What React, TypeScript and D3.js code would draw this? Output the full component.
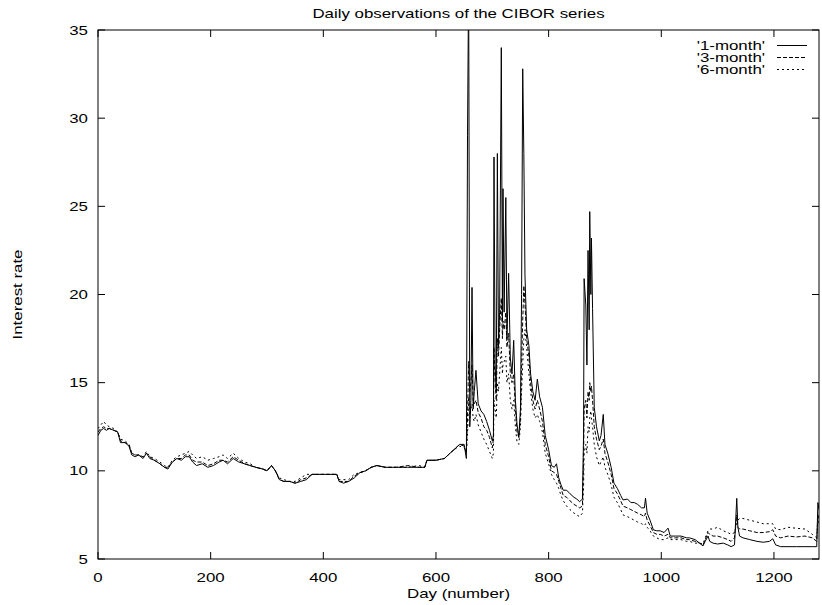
import React from "react";
import * as d3 from "d3";

const days = [
  0, 5, 10, 15, 20, 28, 35, 40, 48, 55,
  60, 66, 72, 80, 86, 92, 100, 110, 118, 124,
  132, 140, 148, 155, 162, 168, 175, 185, 195, 205,
  215, 222, 230, 240, 250, 260, 270, 280, 293, 300,
  308, 315, 322, 330, 340, 350, 360, 370, 380, 395,
  410, 424, 428, 436, 445, 455, 465, 475, 485, 495,
  510, 530, 550, 570, 580, 584, 600, 615, 625, 632,
  642, 650, 654, 656, 658, 660, 662, 664, 666, 668,
  671, 675, 680, 685, 690, 695, 700, 702, 703, 705,
  707, 709, 711, 713, 716, 718, 719, 721, 724, 726,
  729, 732, 735, 738, 741, 744, 747, 750, 752, 754,
  756, 758, 761, 765, 768, 772, 776, 780, 784, 789,
  794, 800, 805, 810, 814, 818, 822, 826, 832, 838,
  845, 850, 855, 860, 862, 863, 866, 868, 870, 872,
  873, 875, 876, 878, 881, 885, 890, 893, 897, 900,
  905, 911, 916, 922, 928, 932, 940, 946, 952, 958,
  965, 970, 972, 975, 980, 986, 992, 998, 1005, 1012,
  1016, 1025, 1035, 1045, 1050, 1060, 1068, 1074, 1078, 1083,
  1086, 1092, 1100, 1110, 1118, 1124, 1130, 1134, 1136, 1139,
  1145, 1157, 1170, 1181, 1192, 1198, 1203, 1212, 1225, 1240,
  1255, 1268, 1276, 1278, 1280,
];

const month1 = [
  12.0, 12.3, 12.4, 12.3, 12.4, 12.3, 12.2, 11.6, 11.6, 11.4,
  10.9, 10.8, 10.9, 10.7, 11.0, 10.7, 10.6, 10.4, 10.2, 10.1,
  10.5, 10.7, 10.6, 10.8, 10.8, 10.5, 10.3, 10.4, 10.2, 10.3,
  10.5, 10.6, 10.4, 10.7, 10.5, 10.4, 10.3, 10.2, 10.1, 10.0,
  10.3, 10.0, 9.5, 9.4, 9.4, 9.3, 9.4, 9.5, 9.8, 9.8,
  9.8, 9.8, 9.4, 9.3, 9.4, 9.6, 9.9, 10.0, 10.2, 10.3,
  10.2, 10.2, 10.2, 10.2, 10.2, 10.6, 10.6, 10.7, 11.0, 11.2,
  11.5, 11.5, 10.7, 29.0, 38.0, 12.5, 14.0, 20.4, 13.5, 14.5,
  15.7, 13.8, 13.4, 13.2, 12.8, 12.3, 11.7, 12.0, 27.8, 16.0,
  14.5, 28.0, 17.0, 19.0, 34.0, 18.5, 26.0, 19.0, 25.5, 17.5,
  21.2, 16.4, 15.5, 17.4, 14.0, 12.6, 11.9, 13.5, 20.0, 32.8,
  28.0, 21.1, 18.0, 17.1, 15.5, 14.5, 14.0, 15.2, 14.2, 13.6,
  12.0, 11.2, 10.3, 10.2, 10.4, 9.6, 9.2, 8.9, 8.9, 8.7,
  8.5, 8.4, 8.25, 8.4, 12.0, 20.9, 19.4, 16.0, 22.5, 18.0,
  24.7, 20.0, 23.2, 19.2, 13.6, 12.5, 11.7, 12.0, 13.2, 11.5,
  11.0, 10.2, 9.3, 9.0, 8.6, 8.35, 8.4, 8.2, 8.2, 8.1,
  7.9, 7.9, 8.45, 7.6, 7.2, 6.65, 6.6, 6.6, 6.5, 6.75,
  6.3, 6.3, 6.3, 6.2, 6.2, 6.1, 5.9, 5.74, 6.0, 6.3,
  6.0, 5.9, 5.85, 5.9, 5.8, 5.7, 5.8, 8.44, 6.8, 6.3,
  6.2, 6.1, 6.0, 5.95, 6.0, 6.15, 5.8, 5.7, 5.7, 5.7,
  5.7, 5.7, 5.7, 8.2, 7.8,
];

const month3 = [
  12.2, 12.4, 12.5, 12.4, 12.4, 12.3, 12.2, 11.7, 11.6, 11.5,
  11.0, 10.9, 10.9, 10.8, 11.0, 10.8, 10.6, 10.4, 10.2, 10.2,
  10.5, 10.7, 10.7, 10.9, 10.9, 10.6, 10.5, 10.5, 10.3, 10.4,
  10.6, 10.6, 10.5, 10.8, 10.6, 10.4, 10.3, 10.2, 10.1, 10.0,
  10.3, 10.0, 9.5, 9.4, 9.4, 9.3, 9.5, 9.6, 9.8, 9.8,
  9.8, 9.8, 9.4, 9.4, 9.4, 9.7, 9.9, 10.0, 10.2, 10.3,
  10.2, 10.2, 10.3, 10.2, 10.2, 10.6, 10.6, 10.7, 11.0, 11.2,
  11.5, 11.4, 11.0, 13.0, 16.2, 14.5, 15.0, 16.0, 14.0, 13.8,
  14.0, 13.3, 13.0, 12.5, 12.3, 11.9, 11.3, 11.8, 17.0, 15.0,
  14.0, 17.5, 16.5, 18.0, 19.8, 17.5, 18.5, 18.0, 19.0, 17.0,
  17.8, 15.5, 15.0, 15.5, 13.5, 12.2, 11.9, 13.0, 16.0, 18.5,
  20.5, 19.5, 17.5, 16.5, 15.0, 14.0, 13.5, 14.0, 13.5, 12.8,
  11.5, 10.8, 10.0, 9.9, 9.8, 9.4, 9.0, 8.6, 8.5, 8.3,
  8.1, 8.0, 7.9, 8.0, 10.5, 13.5, 14.0, 13.0, 14.5, 14.0,
  15.0, 14.5, 14.8, 14.0, 12.5, 11.8, 11.2, 11.4, 11.8, 11.0,
  10.5, 9.8, 9.0, 8.7, 8.3, 8.0, 7.9, 7.8, 7.7, 7.6,
  7.5, 7.4, 7.6, 7.2, 6.9, 6.5, 6.4, 6.4, 6.3, 6.4,
  6.2, 6.2, 6.2, 6.1, 6.1, 6.0, 5.9, 5.8, 6.1, 6.5,
  6.4, 6.3, 6.3, 6.2, 6.1, 6.0, 6.2, 7.5, 6.8, 6.7,
  6.7, 6.6, 6.5, 6.5, 6.55, 6.66, 6.3, 6.2, 6.3, 6.25,
  6.3, 6.2, 6.0, 7.5, 7.3,
];

const month6 = [
  12.4, 12.6, 12.8, 12.6, 12.5, 12.4, 12.2, 11.8, 11.7, 11.5,
  11.0, 10.9, 10.9, 10.8, 11.1, 10.8, 10.7, 10.5, 10.3, 10.2,
  10.6, 10.8, 10.9, 11.0, 11.1, 10.9, 10.7, 10.8, 10.6, 10.7,
  10.8, 10.9, 10.7, 11.0, 10.7, 10.5, 10.4, 10.2, 10.1, 10.0,
  10.3, 10.0, 9.6, 9.5, 9.4, 9.4, 9.6, 9.8, 9.8, 9.8,
  9.8, 9.8, 9.5, 9.5, 9.5, 9.8, 9.9, 10.0, 10.2, 10.3,
  10.2, 10.2, 10.2, 10.3, 10.2, 10.6, 10.6, 10.7, 11.0, 11.2,
  11.4, 11.3, 11.1, 12.0, 14.2, 13.0, 13.5, 13.8, 13.0, 12.8,
  13.2, 12.6, 12.2, 11.8, 11.5, 11.1, 10.7, 11.0, 14.0, 13.5,
  13.0, 15.0, 14.5, 15.5, 17.0, 15.5, 16.0, 16.2, 16.5, 15.0,
  15.5, 14.0, 13.5, 14.0, 12.5, 11.6, 11.5, 12.5, 14.5, 16.0,
  17.5, 18.0, 17.0, 15.5, 14.5, 13.5, 13.0, 13.2, 12.8, 12.2,
  11.0, 10.4, 9.8, 9.5, 9.3, 9.0, 8.6, 8.3, 8.0, 7.8,
  7.6, 7.5, 7.4, 7.6, 9.0, 11.0, 11.5, 11.0, 12.5, 12.2,
  13.0, 13.4, 13.0, 12.5, 11.5, 10.8, 10.3, 10.5, 10.8, 10.2,
  9.8, 9.2, 8.5, 8.2, 7.8, 7.5, 7.4, 7.3, 7.2, 7.1,
  7.0, 6.9, 7.0, 6.8, 6.6, 6.3, 6.2, 6.1, 6.1, 6.2,
  6.1, 6.1, 6.1, 6.0, 6.0, 5.9, 5.9, 5.85, 6.2, 6.6,
  6.7, 6.7, 6.8, 6.6, 6.5, 6.4, 6.5, 7.0, 7.2, 7.3,
  7.3, 7.2, 7.1, 7.0, 7.0, 7.0, 6.7, 6.66, 6.8, 6.74,
  6.7, 6.4, 6.2, 7.2, 7.0,
];

const seriesNames = ["'1-month'", "'3-month'", "'6-month'"];
const xTicks = [0, 200, 400, 600, 800, 1000, 1200];
const yTicks = [5, 10, 15, 20, 25, 30, 35];
const title = "Daily observations of the CIBOR series";
const xLabel = "Day (number)";
const yLabel = "Interest rate";

const W = 822;
const H = 605;
const M = { left: 98, right: 819, top: 30, bottom: 559 };
const FONT = "'Liberation Sans', Arial, Helvetica, sans-serif";
const FS = 12.5;
const SX = 1.35; // text in the reference is drawn wide
const HALF = 4.5; // half cap height
const dashes = ["none", "4,2", "2,3"];

function T(props: {
  x: number;
  y: number;
  anchor?: string;
  rotate?: boolean;
  children: React.ReactNode;
}) {
  const { x, y, anchor = "start", rotate = false, children } = props;
  return (
    <text
      transform={`translate(${x},${y})${rotate ? " rotate(-90)" : ""} scale(${SX},1)`}
      textAnchor={anchor}
      fill="#000"
    >
      {children}
    </text>
  );
}

export default function App() {
  const x = d3.scaleLinear().domain([0, 1280]).range([M.left, M.right]);
  const y = d3.scaleLinear().domain([5, 35]).range([M.bottom, M.top]);
  const allSeries = [month1, month3, month6];
  const line = (vals: number[]) =>
    d3
      .line<number>()
      .x((_, i) => x(days[i]))
      .y((v) => y(v))(vals) || "";
  const tick = 7;
  const legendRows = [45.5, 57.5, 69.5];

  return (
    <svg
      width={W}
      height={H}
      style={{ position: "absolute", left: 0, top: 0, background: "#fff" }}
      fontFamily={FONT}
      fontSize={FS}
    >
      <rect x={0} y={0} width={W} height={H} fill="#fff" />
      <defs>
        <clipPath id="plotClip">
          <rect x={M.left} y={M.top} width={M.right - M.left} height={M.bottom - M.top} />
        </clipPath>
      </defs>

      {/* ticks */}
      <g stroke="#000" strokeWidth={1}>
        {yTicks.map((t) => (
          <g key={"y" + t}>
            <line x1={M.left} x2={M.left + tick} y1={y(t)} y2={y(t)} />
            <line x1={M.right} x2={M.right - tick} y1={y(t)} y2={y(t)} />
          </g>
        ))}
        {xTicks.map((t) => (
          <g key={"x" + t}>
            <line x1={x(t)} x2={x(t)} y1={M.bottom} y2={M.bottom - tick} />
            <line x1={x(t)} x2={x(t)} y1={M.top} y2={M.top + tick} />
          </g>
        ))}
      </g>

      {/* tick labels */}
      {yTicks.map((t) => (
        <T key={"yl" + t} x={M.left - 10} y={y(t) + HALF} anchor="end">
          {t}
        </T>
      ))}
      {xTicks.map((t) => (
        <T key={"xl" + t} x={x(t)} y={581.5} anchor="middle">
          {t}
        </T>
      ))}

      {/* series */}
      <g clipPath="url(#plotClip)" fill="none" stroke="#000" strokeWidth={1}>
        {allSeries.map((s, i) => (
          <path key={i} d={line(s)} strokeDasharray={dashes[i]} />
        ))}
      </g>

      {/* border */}
      <rect
        x={M.left}
        y={M.top}
        width={M.right - M.left}
        height={M.bottom - M.top}
        fill="none"
        stroke="#000"
        strokeWidth={1}
      />

      {/* legend */}
      {seriesNames.map((n, i) => (
        <g key={n}>
          <T x={765} y={legendRows[i] + HALF} anchor="end">
            {n}
          </T>
          <line
            x1={777}
            x2={807}
            y1={legendRows[i]}
            y2={legendRows[i]}
            stroke="#000"
            strokeWidth={1}
            strokeDasharray={dashes[i]}
          />
        </g>
      ))}

      {/* titles */}
      <T x={(M.left + M.right) / 2} y={17.5} anchor="middle">
        {title}
      </T>
      <T x={(M.left + M.right) / 2} y={597.5} anchor="middle">
        {xLabel}
      </T>
      <T x={21.5} y={(M.top + M.bottom) / 2} anchor="middle" rotate>
        {yLabel}
      </T>
    </svg>
  );
}
